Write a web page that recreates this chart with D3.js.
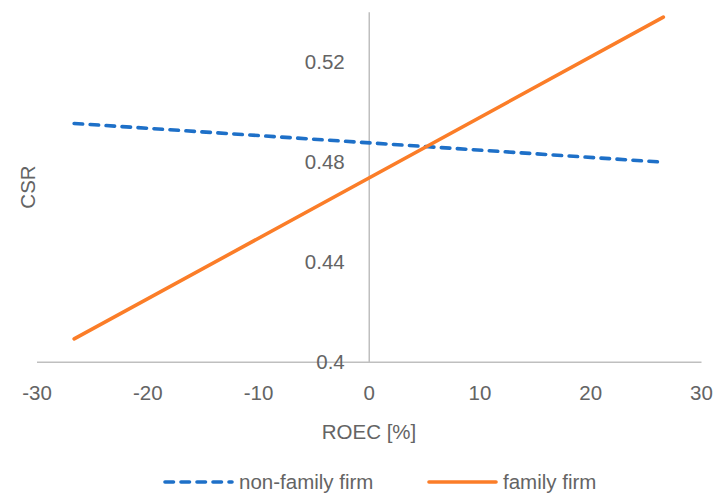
<!DOCTYPE html>
<html><head><meta charset="utf-8">
<script src="https://cdn.jsdelivr.net/npm/d3@7"></script>
<style>body{margin:0;background:#fff}svg{display:block}text{font-family:"Liberation Sans",Arial,sans-serif;fill:#646464}</style>
</head><body><svg id="c" width="713" height="494"></svg>
<script>
const xValues = [-26.6, 26.6];
const nonFamily = [0.4953, 0.4798];
const family = [0.4091, 0.5378];
const seriesNames = ["non-family firm", "family firm"];
const xTicks = [-30, -20, -10, 0, 10, 20, 30];
const yTicks = [0.4, 0.44, 0.48, 0.52];
const yDomain = [0.4, 0.54];
const xDomain = [-30, 30];

const FS = 20.5;
const svg = d3.select("#c");
const x = d3.scaleLinear().domain(xDomain).range([36.5, 701]);
const y = d3.scaleLinear().domain(yDomain).range([361.7, 11.7]);
const axisColor = "#BFBFBF";

const xAxis = svg.append("g").attr("transform", `translate(0,${y(0.4)})`)
  .call(d3.axisBottom(x).tickValues(xTicks).tickSize(0).tickPadding(24).tickFormat(d => String(d)));
xAxis.select(".domain").attr("stroke", axisColor).attr("stroke-width", 1.5);
xAxis.selectAll("text").attr("font-size", FS).attr("fill", "#646464").style("font-family", "Liberation Sans, Arial, sans-serif");

const yAxis = svg.append("g").attr("transform", `translate(${x(0)},0)`)
  .call(d3.axisLeft(y).tickValues(yTicks).tickSize(0).tickPadding(24).tickFormat(d => String(+d.toFixed(2))));
yAxis.select(".domain").attr("stroke", axisColor).attr("stroke-width", 1.5);
yAxis.selectAll("text").attr("font-size", FS).attr("fill", "#646464").style("font-family", "Liberation Sans, Arial, sans-serif");

const line = d3.line().x(d => x(d[0])).y(d => y(d[1]));
const nfData = xValues.map((v, i) => [v, nonFamily[i]]);
const fData = xValues.map((v, i) => [v, family[i]]);

svg.append("path").datum(nfData).attr("d", line).attr("fill", "none")
  .attr("stroke", "#1E70C8").attr("stroke-width", 3.6).attr("stroke-linecap", "round")
  .attr("stroke-dasharray", "8.5,7.5");
svg.append("path").datum(fData).attr("d", line).attr("fill", "none")
  .attr("stroke", "#FB7D28").attr("stroke-width", 3.6).attr("stroke-linecap", "round");

svg.append("text").attr("x", 369).attr("y", 439).attr("text-anchor", "middle")
  .attr("font-size", FS).text("ROEC [%]");
svg.append("text").attr("transform", "translate(35,187) rotate(-90)").attr("text-anchor", "middle")
  .attr("font-size", FS).text("CSR");

const leg = svg.append("g");
leg.append("line").attr("x1", 165).attr("x2", 232).attr("y1", 482).attr("y2", 482)
  .attr("stroke", "#1E70C8").attr("stroke-width", 3.6).attr("stroke-linecap", "round").attr("stroke-dasharray", "8.5,7.5");
leg.append("text").attr("x", 239).attr("y", 489).attr("font-size", FS).text(seriesNames[0]);
leg.append("line").attr("x1", 429).attr("x2", 496).attr("y1", 482).attr("y2", 482)
  .attr("stroke", "#FB7D28").attr("stroke-width", 3.6).attr("stroke-linecap", "round");
leg.append("text").attr("x", 503).attr("y", 489).attr("font-size", FS).text(seriesNames[1]);
</script></body></html>
